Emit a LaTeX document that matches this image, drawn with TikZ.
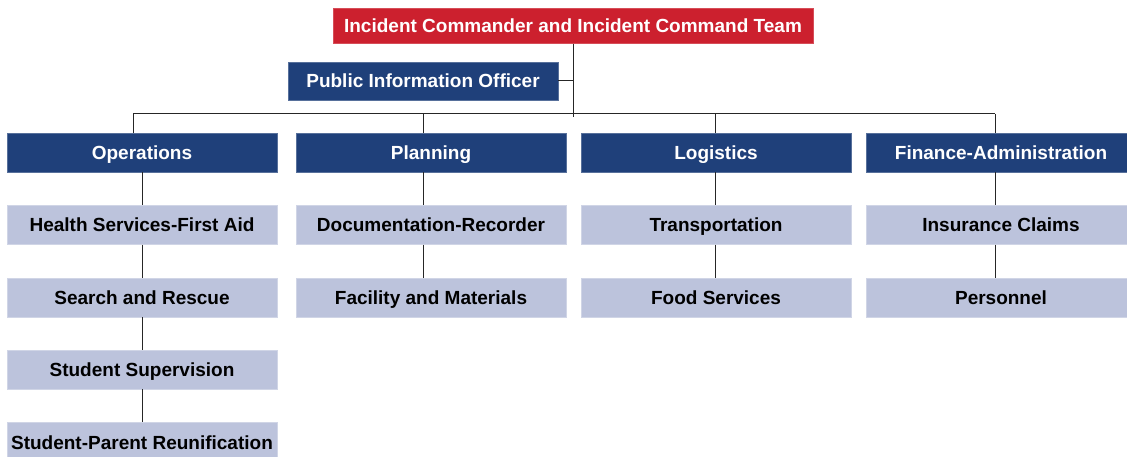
\documentclass[tikz,border=0pt]{standalone}
\usepackage{fontspec}
\setmainfont{Liberation Sans}
\usetikzlibrary{positioning}
\definecolor{icred}{RGB}{204,32,46}
\definecolor{icblue}{RGB}{31,64,122}
\definecolor{iclight}{RGB}{188,195,220}

\begin{document}
\begin{tikzpicture}[x=1pt, y=-1pt, node distance=33pt, font=\fontsize{19}{22}\selectfont\bfseries]
    \tikzstyle{head}=[fill=icred, draw=icred!80!white, text=white, minimum width=480pt, minimum height=35pt, inner sep=0pt, text height=16pt, text depth=2pt]
    \tikzstyle{section}=[fill=icblue, draw=icblue!75!white, text=white, minimum width=270pt, minimum height=39pt, inner sep=0pt, text height=16pt, text depth=2pt]
    \tikzstyle{unit}=[fill=iclight, draw=iclight!70!white, text=black, minimum width=270pt, minimum height=39pt, inner sep=0pt, text height=16pt, text depth=2pt]
    \tikzstyle{link}=[draw=black!85, line width=1pt]

    \useasboundingbox[fill=white] (0,0) rectangle (1127,457);

    \node[head] (ic) at (573,26) {Incident Commander and Incident Command Team};
    \node[section, minimum height=38pt] (pio) at (423,81) {Public Information Officer};
    \coordinate (bus) at (573,114);

    \node[section] (ops) at (142,152.5) {Operations};
    \node[section] (plan) at (431,152.5) {Planning};
    \node[section] (log) at (716,152.5) {Logistics};
    \node[section] (fin) at (1001,152.5) {Finance-Administration};

    \node[unit, below=of ops] (health) {Health Services-First Aid};
    \node[unit, below=of health] (search) {Search and Rescue};
    \node[unit, below=of search] (superv) {Student Supervision};
    \node[unit, below=of superv] (reunif) {Student-Parent Reunification};

    \node[unit, below=of plan] (docu) {Documentation-Recorder};
    \node[unit, below=of docu] (facil) {Facility and Materials};

    \node[unit, below=of log] (trans) {Transportation};
    \node[unit, below=of trans] (food) {Food Services};

    \node[unit, below=of fin] (insur) {Insurance Claims};
    \node[unit, below=of insur] (person) {Personnel};

    % command line and officer
    \draw[link] (ic.south) -- ([yshift=-3pt]bus);
    \draw[link] (pio.east) -- (pio.east -| ic.south);
    \draw[link] ([xshift=-9pt]ops.north |- bus) -- ([xshift=-6pt]fin.north |- bus);

    % sections to units
    \foreach \s/\d in {ops/-9, plan/-8, log/-1, fin/-6}
        \draw[link] ([xshift=\d pt]\s.north |- bus) -- ([xshift=\d pt]\s.north);
    \begin{scope}[xshift=-9pt]
        \draw[link] (ops.south) -- (health.north) (health.south) -- (search.north)
            (search.south) -- (superv.north) (superv.south) -- (reunif.north);
    \end{scope}
    \draw[link] ([xshift=-8pt]plan.south) -- ([xshift=-8pt]docu.north)
        ([xshift=-8pt]docu.south) -- ([xshift=-8pt]facil.north);
    \draw[link] ([xshift=-1pt]log.south) -- ([xshift=-1pt]trans.north)
        ([xshift=-1pt]trans.south) -- ([xshift=-1pt]food.north);
    \draw[link] ([xshift=-6pt]fin.south) -- ([xshift=-6pt]insur.north)
        ([xshift=-6pt]insur.south) -- ([xshift=-6pt]person.north);
\end{tikzpicture}
\end{document}
